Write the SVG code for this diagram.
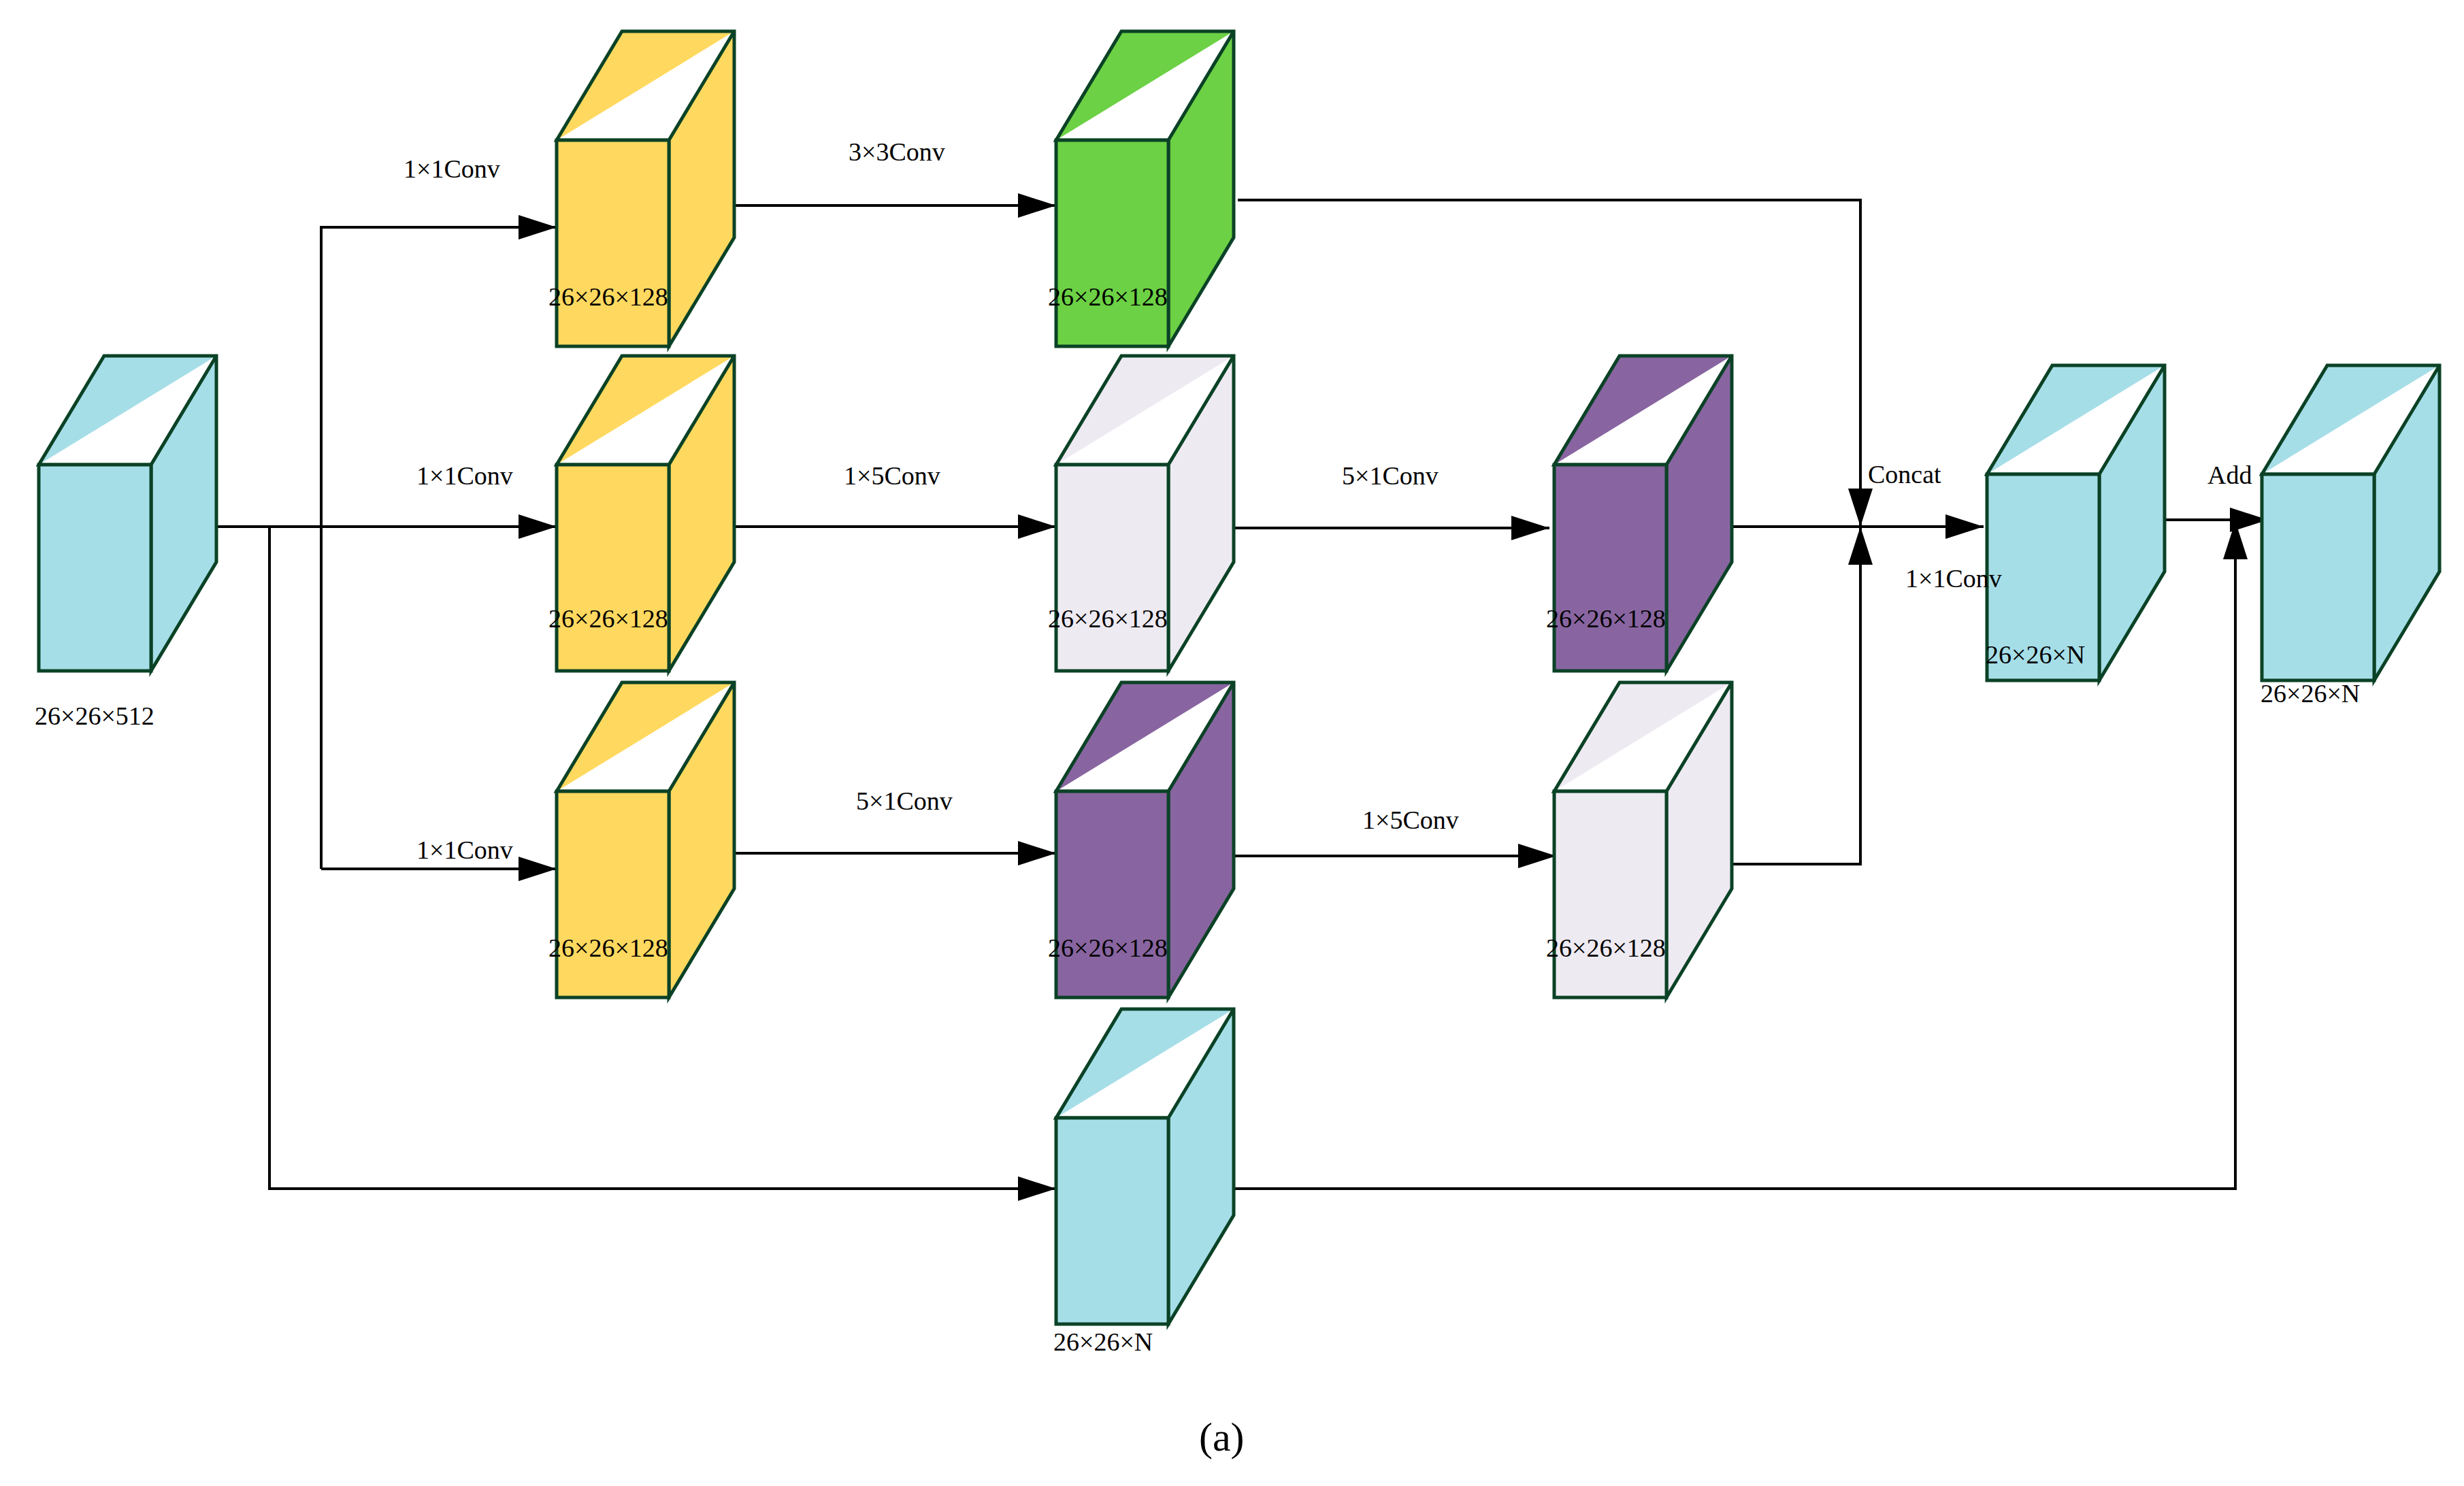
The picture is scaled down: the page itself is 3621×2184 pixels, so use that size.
<svg xmlns="http://www.w3.org/2000/svg" width="3621" height="2184" viewBox="0 0 3621 2184">
<style>
.c{stroke:#0B4226;stroke-width:5;stroke-linejoin:miter}
.cy{fill:#A6DEE8}.ye{fill:#FFD95F}.gr{fill:#6CD144}.lv{fill:#EEEAF2}.pu{fill:#8865A0}
.t{font-family:"Liberation Serif",serif;font-size:38px;fill:#000}
.w{fill:none;stroke:#000;stroke-width:4}
</style>
<defs>
<symbol id="cube" overflow="visible">
<path class="c" d="M0,0 L96,-160 L261,-160 L261,143 L165,303 L165,0 Z M0,0 H165 L261,-160"/>
<rect class="c" x="0" y="0" width="165" height="303"/>
</symbol>
<marker id="a" markerUnits="userSpaceOnUse" markerWidth="60" markerHeight="36" refX="56" refY="18" orient="auto"><path d="M0,0 L56,18 L0,36 Z" fill="#000"/></marker>
</defs>
<g id="connectors" class="w">
<path d="M282,774 H818" marker-end="url(#a)"/>
<path d="M472,1277 V334 H818" marker-end="url(#a)"/>
<path d="M472,1277 H818" marker-end="url(#a)"/>
<path d="M396,774 V1747 H1552" marker-end="url(#a)"/>
<path d="M1053,302 H1552" marker-end="url(#a)"/>
<path d="M1053,774 H1552" marker-end="url(#a)"/>
<path d="M1053,1254 H1552" marker-end="url(#a)"/>
<path d="M1819,294 H2734 V774" marker-end="url(#a)"/>
<path d="M1796,776 H2277" marker-end="url(#a)"/>
<path d="M1796,1258 H2287" marker-end="url(#a)"/>
<path d="M2521,774 H2915" marker-end="url(#a)"/>
<path d="M2544,1270 H2734 V774" marker-end="url(#a)"/>
<path d="M3139,764 H3333" marker-end="url(#a)"/>
<path d="M1779,1747 H3285 V766" marker-end="url(#a)"/>
</g>
<g id="n_in"><g class="cy"><use href="#cube" x="57" y="683"/></g><text class="t" x="51" y="1065">26×26×512</text></g>
<g id="n_y1"><g class="ye"><use href="#cube" x="818" y="206"/></g><text class="t" x="806" y="449">26×26×128</text></g>
<g id="n_y2"><g class="ye"><use href="#cube" x="818" y="683"/></g><text class="t" x="806" y="922">26×26×128</text></g>
<g id="n_y3"><g class="ye"><use href="#cube" x="818" y="1163"/></g><text class="t" x="806" y="1406">26×26×128</text></g>
<g id="n_g"><g class="gr"><use href="#cube" x="1552" y="206"/></g><text class="t" x="1540" y="449">26×26×128</text></g>
<g id="n_l1"><g class="lv"><use href="#cube" x="1552" y="683"/></g><text class="t" x="1540" y="922">26×26×128</text></g>
<g id="n_p1"><g class="pu"><use href="#cube" x="1552" y="1163"/></g><text class="t" x="1540" y="1406">26×26×128</text></g>
<g id="n_c4"><g class="cy"><use href="#cube" x="1552" y="1643"/></g><text class="t" x="1548" y="1985">26×26×N</text></g>
<g id="n_p2"><g class="pu"><use href="#cube" x="2284" y="683"/></g><text class="t" x="2272" y="922">26×26×128</text></g>
<g id="n_l2"><g class="lv"><use href="#cube" x="2284" y="1163"/></g><text class="t" x="2272" y="1406">26×26×128</text></g>
<g id="n_cat"><g class="cy"><use href="#cube" x="2920" y="697"/></g><text class="t" x="2918" y="975">26×26×N</text></g>
<g id="n_add"><g class="cy"><use href="#cube" x="3324" y="697"/></g><text class="t" x="3322" y="1032">26×26×N</text></g>
<g id="labels">
<text class="t" x="593" y="261">1×1Conv</text>
<text class="t" x="612" y="712">1×1Conv</text>
<text class="t" x="612" y="1262">1×1Conv</text>
<text class="t" x="1247" y="236">3×3Conv</text>
<text class="t" x="1240" y="712">1×5Conv</text>
<text class="t" x="1258" y="1190">5×1Conv</text>
<text class="t" x="1972" y="712">5×1Conv</text>
<text class="t" x="2002" y="1218">1×5Conv</text>
<text class="t" x="2745" y="710">Concat</text>
<text class="t" x="2800" y="863">1×1Conv</text>
<text class="t" x="3244" y="711">Add</text>
<text x="1762" y="2132" style="font-family:'Liberation Serif',serif;font-size:60px">(a)</text>
</g>
</svg>
